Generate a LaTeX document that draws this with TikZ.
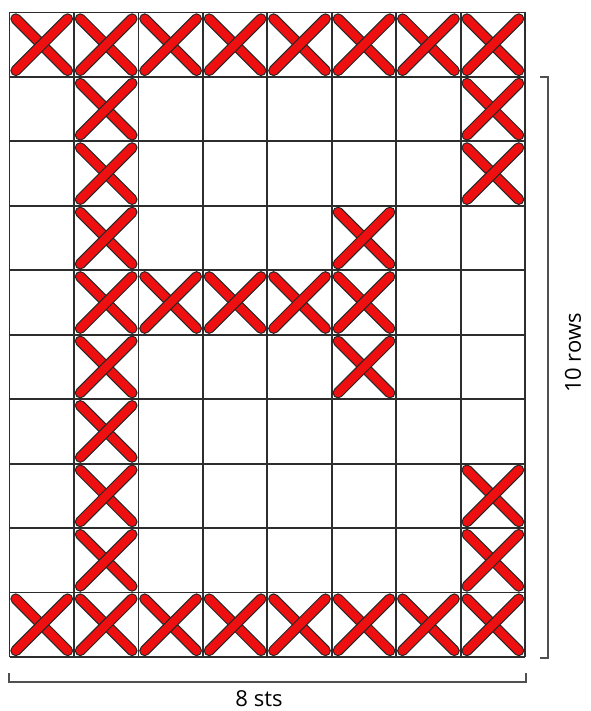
\documentclass[tikz,border=0pt]{standalone}
\usepackage{fontspec}
\setmainfont{Open Sans}
\definecolor{xred}{RGB}{238,16,16}
\definecolor{gridc}{RGB}{45,45,45}
\definecolor{brc}{RGB}{80,80,80}
\tikzset{
  gridline/.style={draw=gridc,line width=1.8pt},
  xout/.style={draw=black!85,line width=11pt,line cap=round},
  xin/.style={draw=xred,line width=8.6pt,line cap=round},
  bracket/.style={draw=brc,line width=2pt},
  lbl/.style={font=\fontsize{22}{26}\selectfont,text=black,inner sep=0pt}
}
\newcommand\gx{9.5}
\newcommand\gy{12.5}
\newcommand\cs{64.45}
\newcommand\ins{6.3}
\newcommand\xstitch[2]{%
  \pgfmathsetmacro\xa{\gx+#1*\cs+\ins}%
  \pgfmathsetmacro\xb{\gx+(#1+1)*\cs-\ins}%
  \pgfmathsetmacro\ya{\gy+#2*\cs+\ins}%
  \pgfmathsetmacro\yb{\gy+(#2+1)*\cs-\ins}%
  \draw[xout] (\xa,\ya) -- (\xb,\yb);
  \draw[xin] (\xa,\ya) -- (\xb,\yb);
  \draw[xout] (\xa,\yb) -- (\xb,\ya);
  \draw[xin] (\xa,\yb) -- (\xb,\ya);
}
\begin{document}
\begin{tikzpicture}[x=1pt,y=-1pt]
\useasboundingbox (0,0) rectangle (590,711);
% grid
\foreach \i in {0,...,8}{
  \draw[gridline] (\gx+\i*\cs,\gy) -- (\gx+\i*\cs,\gy+10*\cs);
}
\foreach \j in {0,...,10}{
  \draw[gridline] (\gx,\gy+\j*\cs) -- (\gx+8*\cs,\gy+\j*\cs);
}
% stitches
\foreach \c in {0,...,7}{\xstitch{\c}{0}\xstitch{\c}{9}}
\foreach \r in {1,...,8}{\xstitch{1}{\r}}
\foreach \r in {1,2,7,8}{\xstitch{7}{\r}}
\foreach \c in {2,3,4,5}{\xstitch{\c}{4}}
\foreach \r in {3,5}{\xstitch{5}{\r}}
% brackets
\coordinate (rt) at (548,77);
\coordinate (rb) at (548,658);
\draw[bracket] ([xshift=-8pt]rt) -- (rt) -- (rb) -- ([xshift=-8pt]rb);
\coordinate (bl) at (9,682);
\coordinate (br) at (526,682);
\draw[bracket] ([yshift=9pt]bl) -- (bl) -- (br) -- ([yshift=9pt]br);
% labels
\node[lbl,rotate=90] (rows) at (573,353) {10 rows};
\node[lbl] (sts) at (259,699) {8 sts};
\end{tikzpicture}
\end{document}
